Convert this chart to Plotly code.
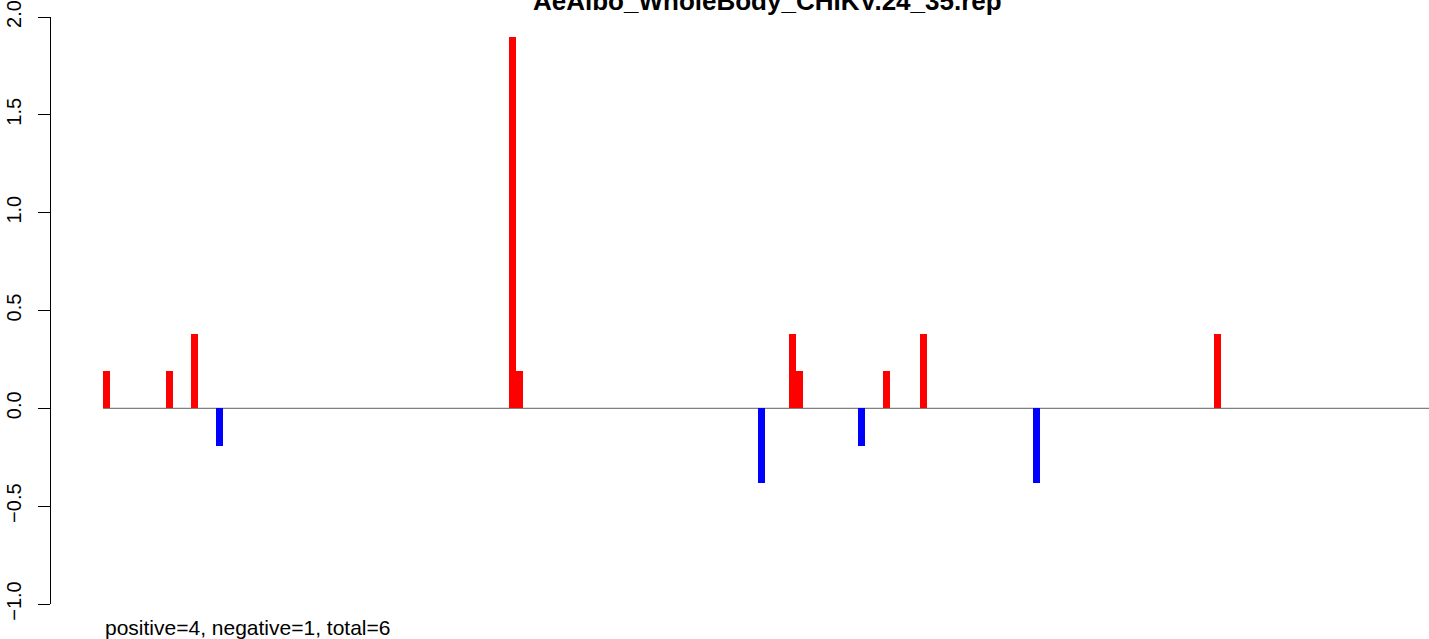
import plotly.graph_objects as go

# Data
positions = [55.5, 118.5, 143.5, 168.5, 461.5, 468.3, 710.5, 741.5, 748.5,
             810.5, 835.5, 872.5, 985.5, 1166.5]
values = [0.19, 0.19, 0.38, -0.19, 1.90, 0.19, -0.38, 0.38, 0.19,
          -0.19, 0.19, 0.38, -0.38, 0.38]
y_ticks = [-1.0, -0.5, 0.0, 0.5, 1.0, 1.5, 2.0]
y_tick_labels = ["\u22121.0", "\u22120.5", "0.0", "0.5", "1.0", "1.5", "2.0"]
title_text = "AeAlbo_WholeBody_CHIKV.24_35.rep"
footer_text = "positive=4, negative=1, total=6"

bar_width = 6.9
x_range = [0, 1378]
y_range = [-1.0, 2.0]
colors = ["#ff0000" if v > 0 else "#0000ff" for v in values]

FONT = "Liberation Sans, Arial, sans-serif"

fig = go.Figure()
fig.add_trace(go.Bar(
    x=positions, y=values, width=bar_width,
    marker=dict(color=colors, line=dict(width=0)),
    showlegend=False, hoverinfo="x+y",
))

# zero line spanning from first bar to the right edge
fig.add_shape(type="line", xref="x", yref="y",
              x0=min(positions) - bar_width / 2, x1=x_range[1], y0=0, y1=0,
              line=dict(color="#808080", width=1.3), layer="below")

fig.add_annotation(text="<b>" + title_text + "</b>", xref="paper", yref="paper",
                   x=(767 - 51) / 1378, y=1.0 - 1.5 / 587, xanchor="center",
                   yanchor="bottom", showarrow=False,
                   font=dict(family=FONT, size=26, color="black"))
fig.add_annotation(text=footer_text, xref="paper", yref="paper",
                   x=(103 - 51) / 1378, y=-0.017, xanchor="left", yanchor="top",
                   showarrow=False, font=dict(family=FONT, size=21, color="black"))

fig.update_layout(
    width=1429, height=639,
    margin=dict(l=51, r=0, t=17, b=35, pad=0, autoexpand=False),
    paper_bgcolor="white", plot_bgcolor="white",
    bargap=0,
    xaxis=dict(range=x_range, visible=False, showgrid=False, zeroline=False,
               automargin=False),
    yaxis=dict(range=y_range, tickvals=y_ticks, ticktext=y_tick_labels,
               tickangle=-90, ticks="outside", ticklen=12, tickwidth=1.3,
               tickcolor="black", showline=True, linecolor="black", linewidth=1.3,
               showgrid=False, zeroline=False, ticklabelstandoff=9,
               automargin=False,
               tickfont=dict(family=FONT, size=20, color="black")),
)

fig.write_html("out.html",
               config={"displayModeBar": False},
               post_script="document.body.style.margin='0';"
                           "document.body.style.overflow='hidden';")
